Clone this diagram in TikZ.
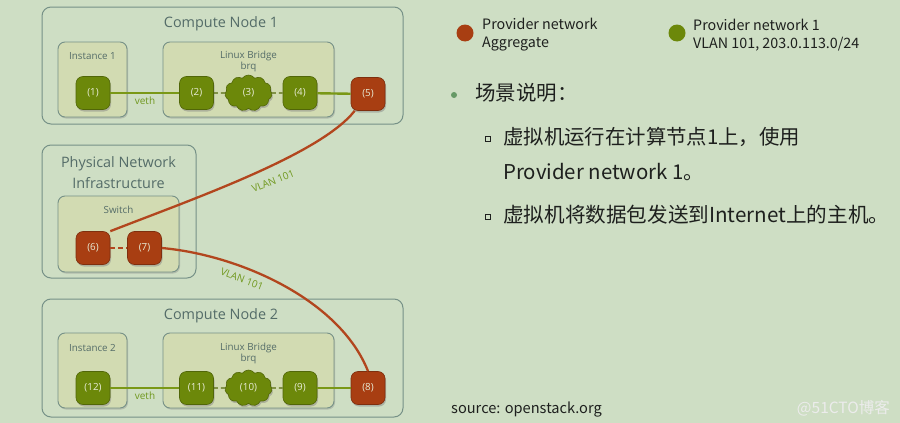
\documentclass[tikz,border=0pt]{standalone}
\usepackage{fontspec}
\setmainfont{Open Sans}
\newfontfamily\cjk{Noto Sans CJK SC}
\usetikzlibrary{shapes.symbols,shadows}
\definecolor{bg}{RGB}{206,222,196}
\definecolor{boxline}{RGB}{118,145,135}
\definecolor{innerfill}{RGB}{210,219,178}
\definecolor{grn}{RGB}{108,136,10}
\definecolor{grnline}{RGB}{122,152,22}
\definecolor{rednode}{RGB}{168,62,18}
\definecolor{redline}{RGB}{178,70,30}
\definecolor{txt}{RGB}{84,108,104}
\definecolor{vlan}{RGB}{112,152,30}
\definecolor{porttxt}{RGB}{232,236,214}
\definecolor{dark}{RGB}{30,32,30}
\begin{document}
\begin{tikzpicture}[x=1pt,y=-1pt,
  outerbox/.style={draw=boxline, line width=1pt, rounded corners=9pt, fill=bg, inner sep=0pt},
  innerbox/.style={draw=boxline, line width=0.9pt, rounded corners=7pt, fill=innerfill, inner sep=0pt,
     drop shadow={opacity=0.35, shadow xshift=1pt, shadow yshift=-1.5pt}},
  boxtitle/.style={text=txt, font=\fontsize{14.4}{21}\selectfont, align=center, inner sep=0pt},
  boxlabel/.style={text=txt, font=\fontsize{9.8}{11}\selectfont, inner sep=0pt},
  port/.style={minimum width=34pt, minimum height=33pt, rounded corners=7pt, inner sep=0pt,
     text=porttxt, font=\fontsize{9.8}{11}\selectfont,
     drop shadow={opacity=0.45, shadow xshift=1pt, shadow yshift=-2pt}},
  gport/.style={port, fill=grn, draw=grn!75!black, line width=0.6pt},
  rport/.style={port, fill=rednode, draw=rednode!75!black, line width=0.6pt},
  bridgecloud/.style={cloud, cloud puffs=11, cloud puff arc=110, aspect=1.3, minimum width=47pt, minimum height=36pt,
     inner sep=0pt, fill=grn, draw=grn!75!black, line width=0.6pt, text=porttxt,
     font=\fontsize{9.8}{11}\selectfont,
     drop shadow={opacity=0.45, shadow xshift=1pt, shadow yshift=-2pt}},
  gwire/.style={draw=grnline, line width=2.4pt},
  gdash/.style={draw=grnline!70!black, line width=1.2pt, dash pattern=on 4pt off 3pt},
  rwire/.style={draw=redline, line width=2.3pt},
  rdash/.style={draw=redline, line width=1.4pt, dash pattern=on 5pt off 3pt},
  wirelabel/.style={text=vlan, font=\fontsize{10}{11}\selectfont, inner sep=0pt},
  legendtxt/.style={text=dark, font=\cjk\fontsize{14.3}{18}\selectfont, align=left, anchor=west, inner sep=0pt},
  bigtxt/.style={text=dark, font=\cjk\fontsize{20.4}{22}\selectfont, anchor=west, inner sep=0pt},
]
\useasboundingbox[fill=bg] (0,0) rectangle (900,423);

% ---------- Compute Node 1 ----------
\node[outerbox, minimum width=361pt, minimum height=117pt] (cn1) at (222.5,65.5) {};
\node[boxtitle] (cn1t) at (221,24) {Compute Node 1};
\node[innerbox, minimum width=69pt, minimum height=75pt] (inst1) at (92.5,79.5) {};
\node[boxlabel] (inst1t) at (92.5,56) {Instance 1};
\node[innerbox, minimum width=171pt, minimum height=75pt] (lb1) at (248.5,79.5) {};
\node[boxlabel] (lb1t) at (248.5,56) {Linux Bridge};
\node[boxlabel] (lb1b) at (248.5,66.5) {brq};

\node[gport] (n1) at (93,93) {(1)};
\node[gport] (n2) at (196.5,93) {(2)};
\node[bridgecloud] (n3) at (248.5,93) {(3)};
\node[gport] (n4) at (300,93) {(4)};
\node[rport] (n5) at (368,94) {(5)};

% ---------- Physical Network ----------
\node[outerbox, minimum width=154pt, minimum height=133pt] (phy) at (119,211.5) {};
\node[boxtitle] (phyt) at (118.5,172.5) {Physical Network\\Infrastructure};
\node[innerbox, minimum width=121pt, minimum height=76pt] (sw) at (118.5,234) {};
\node[boxlabel] (swt) at (118.5,210) {Switch};
\node[rport] (n6) at (93,248) {(6)};
\node[rport] (n7) at (144.5,248) {(7)};

% ---------- Compute Node 2 ----------
\node[outerbox, minimum width=361pt, minimum height=118pt] (cn2) at (222.5,358) {};
\node[boxtitle] (cn2t) at (221,316) {Compute Node 2};
\node[innerbox, minimum width=69pt, minimum height=75pt] (inst2) at (92.5,370.5) {};
\node[boxlabel] (inst2t) at (92.5,348) {Instance 2};
\node[innerbox, minimum width=171pt, minimum height=75pt] (lb2) at (248.5,370.5) {};
\node[boxlabel] (lb2t) at (248.5,348) {Linux Bridge};
\node[boxlabel] (lb2b) at (248.5,358.5) {brq};

\node[gport] (n12) at (93,388) {(12)};
\node[gport] (n11) at (196.5,388) {(11)};
\node[bridgecloud] (n10) at (248.5,388) {(10)};
\node[gport] (n9) at (300,388) {(9)};
\node[rport] (n8) at (368,388) {(8)};

% ---------- wires ----------
\draw[gwire] (n1) -- (n2);
\draw[gdash] (n2) -- (n3);
\draw[gdash] (n3) -- (n4);
\draw[gwire] (n4) -- (n5);
\node[wirelabel] (veth1) at (145,101) {veth};

\draw[gwire] (n12) -- (n11);
\draw[gdash] (n11) -- (n10);
\draw[gdash] (n10) -- (n9);
\draw[gwire] (n9) -- (n8);
\node[wirelabel] (veth2) at (145,396) {veth};

\draw[rdash] (n6) -- (n7);
\coordinate (c5) at ([xshift=4pt]n5.south west);
\draw[rwire] (c5) .. controls (320,155) and (190,200) .. (n6.north east);
\draw[rwire] (n7.east) .. controls (240,255) and (340,300) .. (n8.north);
\node[wirelabel, rotate=22] (vl1) at (273,181) {VLAN 101};
\node[wirelabel, rotate=-21] (vl2) at (242,279) {VLAN 101};

% ---------- legend ----------
\node[circle, fill=rednode, minimum size=17pt, inner sep=0pt] (lgr) at (465,33) {};
\node[legendtxt] (lgrt) at (482,35) {Provider network\\Aggregate};
\node[circle, fill=grn, minimum size=17pt, inner sep=0pt] (lgg) at (677,33) {};
\node[legendtxt] (lggt) at (693,35) {Provider network 1\\VLAN 101, 203.0.113.0/24};

% ---------- bullets ----------
\node[circle, fill=gray!80!green, minimum size=6pt, inner sep=0pt] (b0) at (454,95) {};
\node[text=dark, font=\cjk\fontsize{20.5}{24}\selectfont, anchor=west, inner sep=0pt] (t0) at (475,93) {场景说明：};
\node[draw=dark, line width=0.8pt, minimum size=5.5pt, inner sep=0pt] (b1) at (488,139) {};
\node[bigtxt] (t1) at (503,137) {虚拟机运行在计算节点1上，使用};
\node[bigtxt] (t1b) at (503,172) {Provider network 1。};
\node[draw=dark, line width=0.8pt, minimum size=5.5pt, inner sep=0pt] (b2) at (488,217) {};
\node[bigtxt, font=\cjk\fontsize{20.6}{22}\selectfont] (t2) at (503,215) {虚拟机将数据包发送到Internet上的主机。};

% ---------- footer ----------
\node[text=dark, font=\cjk\fontsize{14.6}{16}\selectfont, anchor=west, inner sep=0pt] (src) at (451,410) {source: openstack.org};
\node[text=white!85!gray, font=\cjk\fontsize{15.5}{17}\selectfont, anchor=east, inner sep=0pt] (wm) at (890,408) {@51CTO博客};
\end{tikzpicture}
\end{document}
